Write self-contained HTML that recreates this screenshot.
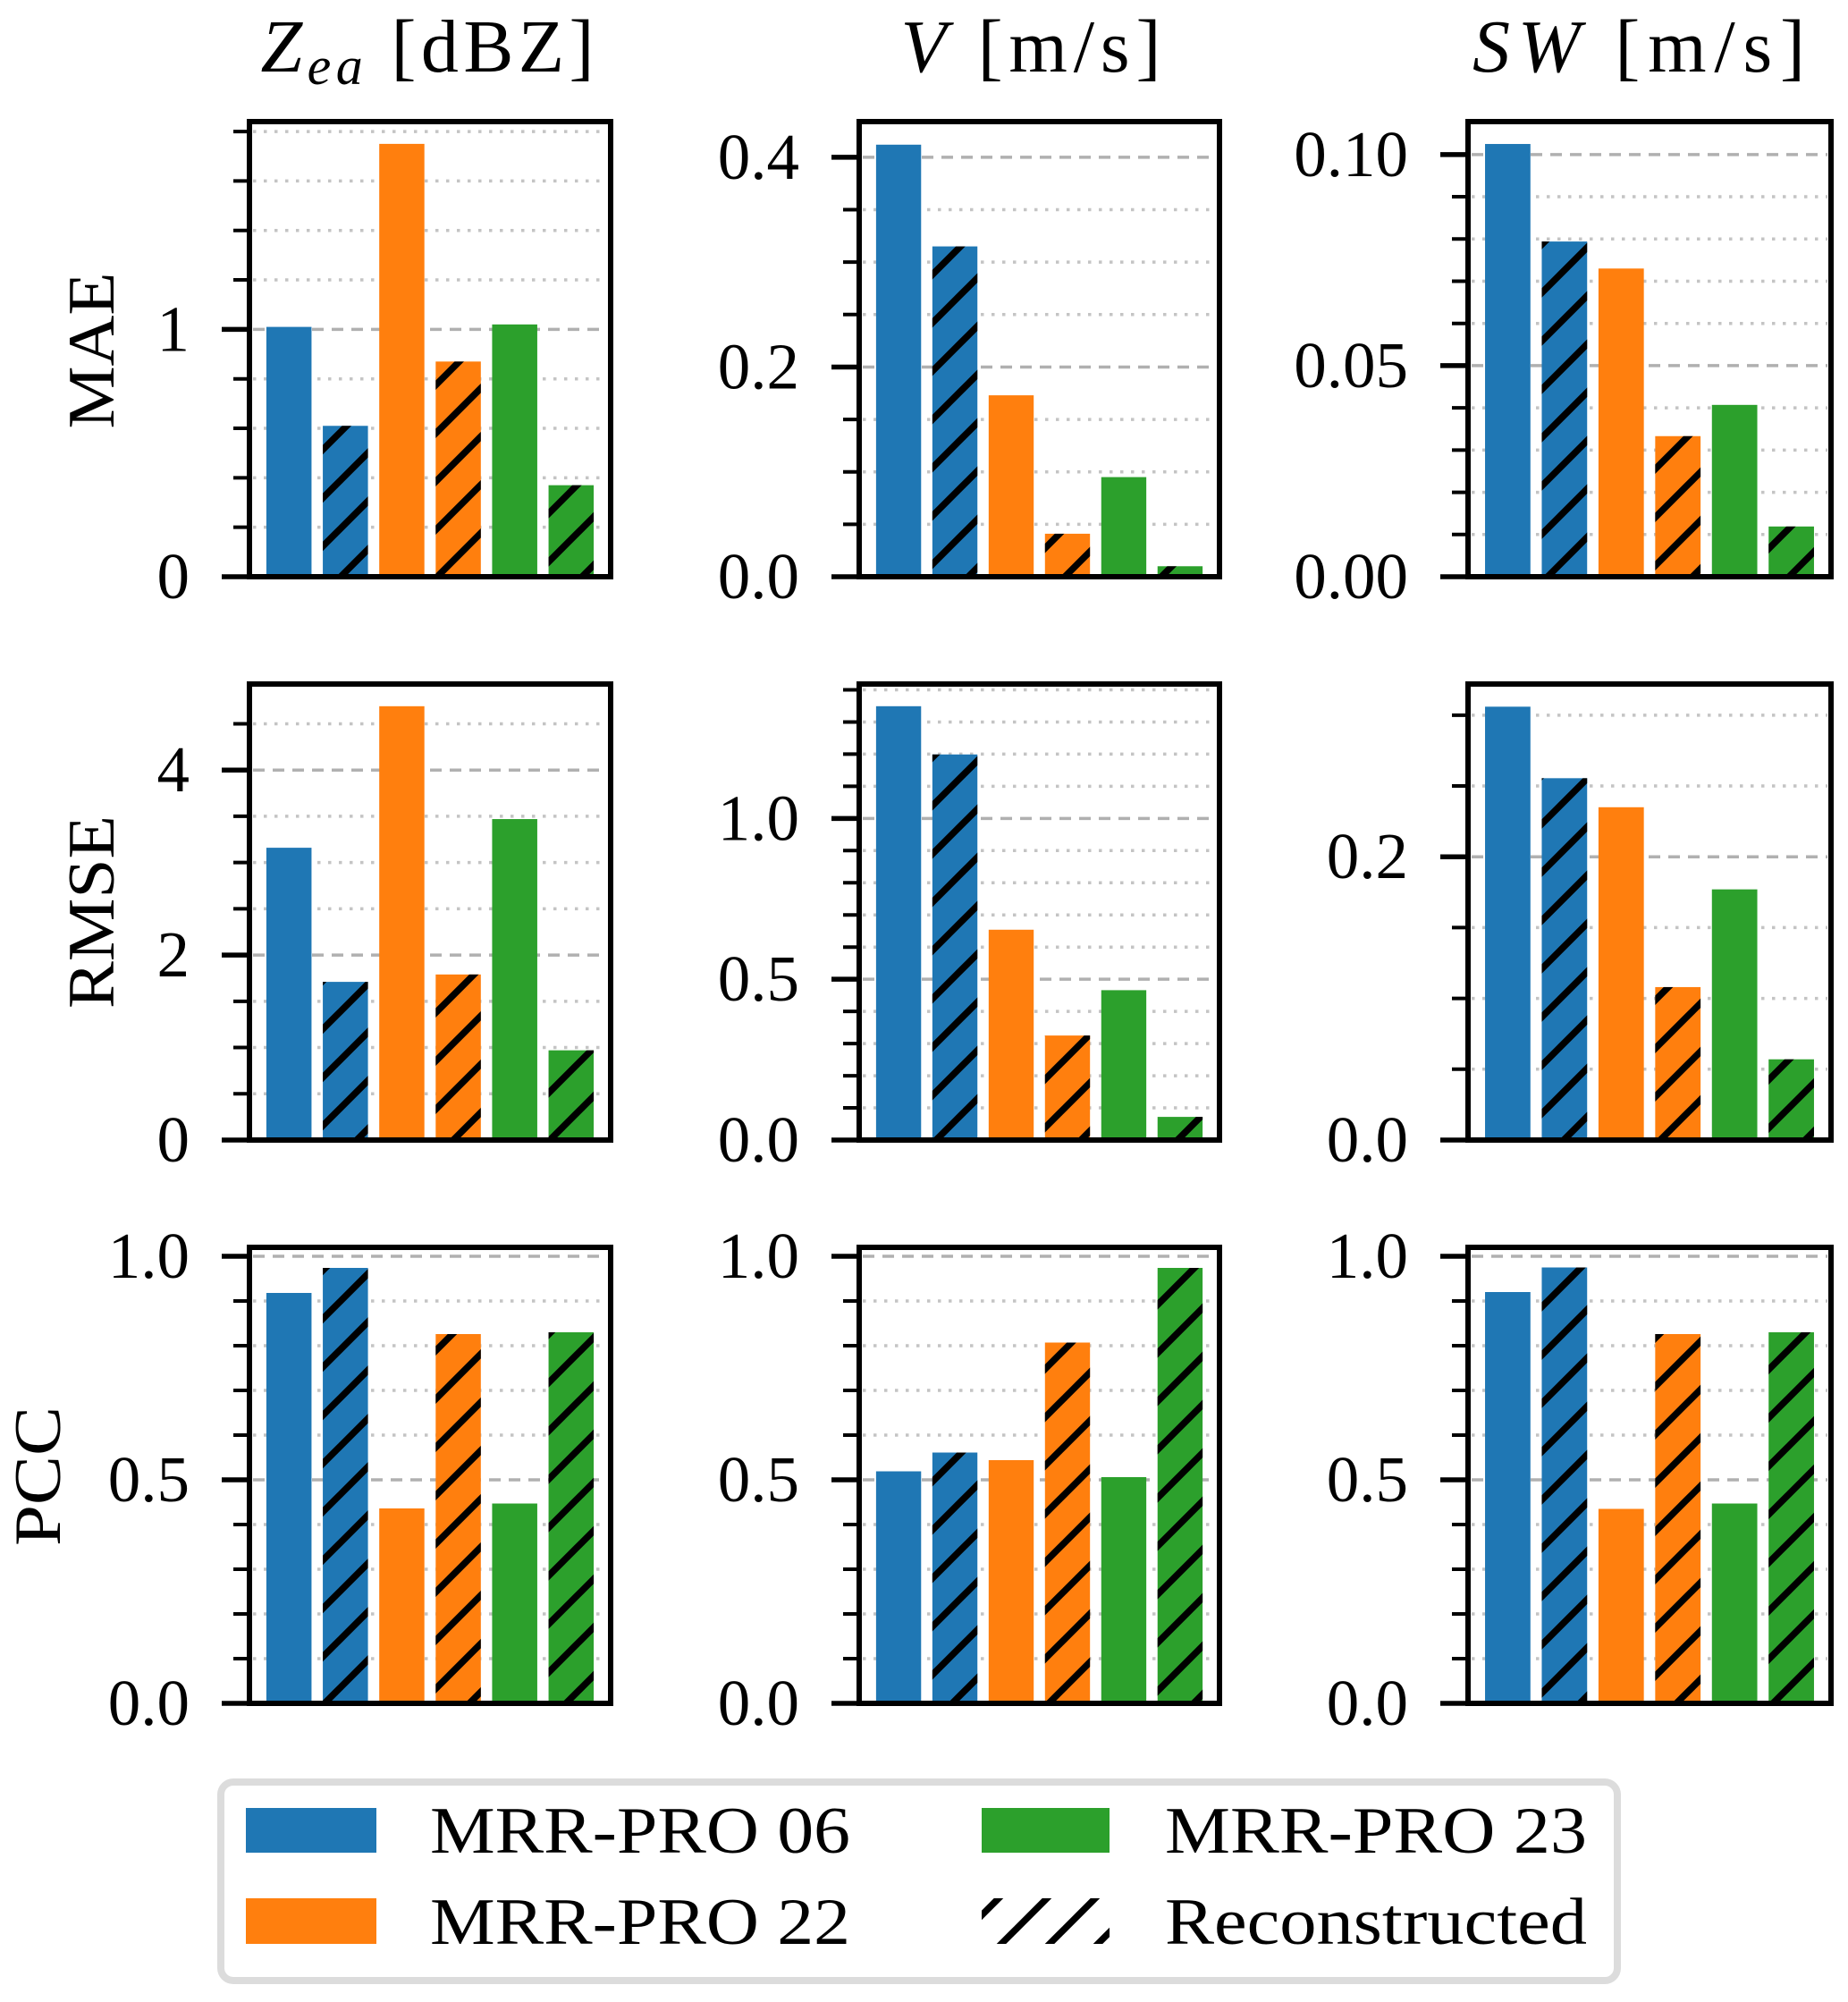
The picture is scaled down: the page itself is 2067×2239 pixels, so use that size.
<!DOCTYPE html>
<html><head><meta charset="utf-8"><style>
html,body{margin:0;padding:0;background:#fff;}
svg{display:block;font-family:"Liberation Serif",serif;}
</style></head>
<body>
<svg id="fig" xmlns="http://www.w3.org/2000/svg" width="2067" height="2239" viewBox="0 0 2067 2239">
<defs>
<pattern id="hatch" patternUnits="userSpaceOnUse" width="54" height="54">
<line x1="-6" y1="60" x2="60" y2="-6" stroke="#000" stroke-width="7.5"/>
<line x1="-33" y1="33" x2="33" y2="-33" stroke="#000" stroke-width="7.5"/>
<line x1="21" y1="87" x2="87" y2="21" stroke="#000" stroke-width="7.5"/>
</pattern>
</defs>
<g id="plots"></g>
<g>
<rect x="247" y="1993" width="1562" height="222" rx="14" fill="#fff" stroke="#dcdcdc" stroke-width="8"/>
<rect x="275" y="2022" width="146" height="50" fill="#1f77b4"/>
<text x="481" y="2072" font-size="74" textLength="470" lengthAdjust="spacingAndGlyphs">MRR-PRO 06</text>
<rect x="275" y="2123" width="146" height="51" fill="#ff7f0e"/>
<text x="481" y="2174" font-size="74" textLength="470" lengthAdjust="spacingAndGlyphs">MRR-PRO 22</text>
<rect x="1098" y="2022" width="143" height="50" fill="#2ca02c"/>
<text x="1303" y="2072" font-size="74" textLength="472" lengthAdjust="spacingAndGlyphs">MRR-PRO 23</text>
<rect x="1098" y="2123" width="143" height="51" fill="url(#hatch)"/>
<text x="1303" y="2174" font-size="74" textLength="472" lengthAdjust="spacingAndGlyphs">Reconstructed</text>
</g>
</svg>
<script>
// categories (bars per panel)
const categories = ["MRR-PRO 06", "MRR-PRO 06 rec", "MRR-PRO 22", "MRR-PRO 22 rec", "MRR-PRO 23", "MRR-PRO 23 rec"];
const hatched = [false, true, false, true, false, true];
const barColors = ["#1f77b4", "#1f77b4", "#ff7f0e", "#ff7f0e", "#2ca02c", "#2ca02c"];
// series values
const maeZ = [1.01, 0.61, 1.75, 0.87, 1.02, 0.37];
const maeV = [0.412, 0.315, 0.173, 0.041, 0.095, 0.010];
const maeSW = [0.1025, 0.0794, 0.0730, 0.0333, 0.0407, 0.0119];
const rmseZ = [3.16, 1.71, 4.69, 1.79, 3.47, 0.97];
const rmseV = [1.349, 1.199, 0.654, 0.325, 0.466, 0.072];
const rmseSW = [0.306, 0.2555, 0.235, 0.108, 0.177, 0.057];
const pccZ = [0.918, 0.974, 0.436, 0.826, 0.447, 0.830];
const pccV = [0.519, 0.561, 0.544, 0.807, 0.506, 0.974];
const pccSW = [0.920, 0.975, 0.435, 0.826, 0.447, 0.830];
// axis limits and ticks
const yMaxes = [[1.84, 0.434, 0.1078], [4.93, 1.418, 0.322], [1.02, 1.02, 1.02]];
const majorTicks = [[[0, 1], [0, 0.2, 0.4], [0, 0.05, 0.10]], [[0, 2, 4], [0, 0.5, 1.0], [0, 0.2]], [[0, 0.5, 1.0], [0, 0.5, 1.0], [0, 0.5, 1.0]]];
const majorLabels = [[["0", "1"], ["0.0", "0.2", "0.4"], ["0.00", "0.05", "0.10"]], [["0", "2", "4"], ["0.0", "0.5", "1.0"], ["0.0", "0.2"]], [["0.0", "0.5", "1.0"], ["0.0", "0.5", "1.0"], ["0.0", "0.5", "1.0"]]];
const minorSteps = [[0.2, 0.05, 0.01], [0.5, 0.1, 0.05], [0.1, 0.1, 0.1]];
const rowNames = ["MAE", "RMSE", "PCC"];
const colNames = ["Zea", "V", "SW"];

const values = [[maeZ, maeV, maeSW], [rmseZ, rmseV, rmseSW], [pccZ, pccV, pccSW]];
const NS = "http://www.w3.org/2000/svg";
const root = document.getElementById("plots");
const colX = [[279, 683], [961, 1364], [1642, 2048]];
const rowY = [[136, 645], [765, 1275], [1395, 1905]];
function mk(tag, attrs, parent) {
  const e = document.createElementNS(NS, tag);
  for (const k in attrs) e.setAttribute(k, attrs[k]);
  parent.appendChild(e);
  return e;
}
for (let r = 0; r < 3; r++) {
  for (let c = 0; c < 3; c++) {
    const g = mk("g", {}, root);
    
    
    const x0 = colX[c][0], x1 = colX[c][1], yTop = rowY[r][0], yBot = rowY[r][1];
    const ymax = yMaxes[r][c];
    const yS = v => yBot - v / ymax * (yBot - yTop);
    const xS = v => x0 + (v + 0.7) / 6.4 * (x1 - x0);
    const step = minorSteps[r][c];
    const majors = majorTicks[r][c];
    for (let k = 1; k * step <= ymax + 1e-9; k++) {
      const v = k * step;
      if (majors.some(m => Math.abs(m - v) < 1e-9)) continue;
      const y = yS(v);
      const gl = mk("line", {x1: x0 + 4, x2: x1 - 4, y1: y, y2: y, stroke: "#c4c4c4", "stroke-width": 3.5, "stroke-dasharray": "3.5 8.5"}, g);
      
      
      const t = mk("line", {x1: x0 - 18, x2: x0, y1: y, y2: y, stroke: "#000", "stroke-width": 4}, g);
      
      
    }
    majors.forEach((v, i) => {
      const y = yS(v);
      if (v > 0) {
        const gl = mk("line", {x1: x0 + 4, x2: x1 - 4, y1: y, y2: y, stroke: "#b0b0b0", "stroke-width": 3.5, "stroke-dasharray": "13 9"}, g);
        
        
      }
      const t = mk("line", {x1: x0 - 31, x2: x0, y1: y, y2: y, stroke: "#000", "stroke-width": 5.5}, g);
      
      
      const lb = mk("text", {x: x0 - 67, y: y + 24, "font-size": 73, "text-anchor": "end"}, g);
      lb.textContent = majorLabels[r][c][i];
      
      
    });
    values[r][c].forEach((v, i) => {
      const bx = xS(i - 0.4), bw = xS(i + 0.4) - bx;
      const by = yS(v);
      const b = mk("rect", {x: bx, y: by, width: bw, height: yBot - by, fill: barColors[i]}, g);
      
      
      if (hatched[i]) {
        const h = mk("rect", {x: bx, y: by, width: bw, height: yBot - by, fill: "url(#hatch)"}, g);
        
        
      }
    });
    const fr = mk("rect", {x: x0, y: yTop, width: x1 - x0, height: yBot - yTop, fill: "none", stroke: "#000", "stroke-width": 6}, g);
    
    
  }
}
const titleSpecs = [
  {c: 0, len: 373, parts: [["Z", "italic", 0], ["ea", "italic", 1], [" [dBZ]", "normal", 0]]},
  {c: 1, len: 291, parts: [["V", "italic", 0], [" [m/s]", "normal", 0]]},
  {c: 2, len: 372, parts: [["SW", "italic", 0], [" [m/s]", "normal", 0]]}
];
const titleCenters = [478, 1153, 1833];
titleSpecs.forEach(s => {
  const t = mk("text", {x: titleCenters[s.c] - s.len / 2, y: 80, "font-size": 84}, document.getElementById("fig"));
  
  
  s.parts.forEach(p => {
    const ts = mk("tspan", {"font-style": p[1]}, t);
    if (p[2]) { ts.setAttribute("font-size", 60); ts.setAttribute("dy", 14); }
    else if (t.childNodes.length > 1 && s.c === 0) { ts.setAttribute("dy", -14); }
    ts.textContent = p[0];
  });
  t.setAttribute("textLength", s.len);
});
const rowLabelSpecs = [[127, 392, 175], [127, 1020, 216], [67, 1651, 156]];
rowNames.forEach((n, i) => {
  const [x, y, len] = rowLabelSpecs[i];
  const t = mk("text", {x: x, y: y, "font-size": 74, "text-anchor": "middle", transform: "rotate(-90 " + x + " " + y + ")", textLength: len, lengthAdjust: "spacingAndGlyphs"}, document.getElementById("fig"));
  
  
  t.textContent = n;
});
</script>
</body></html>
